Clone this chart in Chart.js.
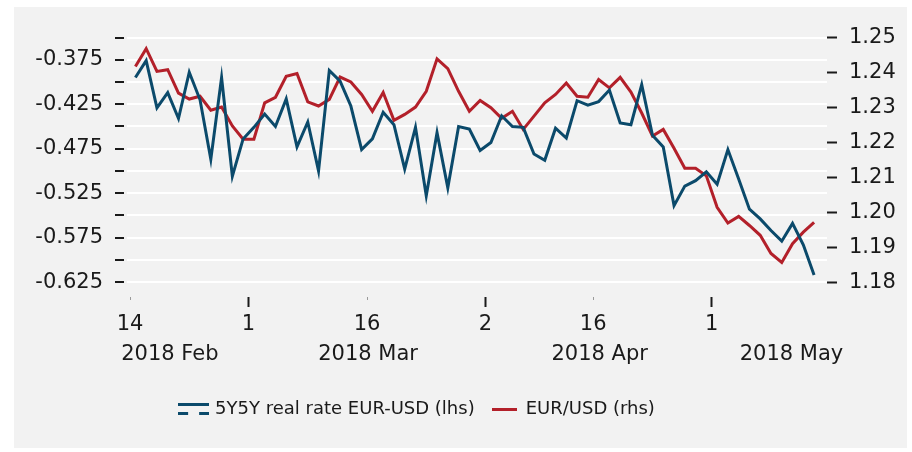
<!DOCTYPE html>
<html>
<head>
<meta charset="utf-8">
<script src="https://cdn.jsdelivr.net/npm/chart.js@4.4.1/dist/chart.umd.min.js"></script>
<style>
  html, body { margin: 0; padding: 0; background: #ffffff; width: 912px; height: 452px; overflow: hidden; }
  #panel { position: absolute; left: 14px; top: 7px; width: 893px; height: 441px; background: #f2f2f2; }
  #wrap { position: absolute; left: -78px; top: 7px; width: 992px; height: 441px; }
</style>
</head>
<body>
<div id="panel"></div>
<div id="wrap"><canvas id="chart" width="992" height="441"></canvas></div>
<script>
// Business days, 14 Feb - 14 May 2018
const dates = [
  '2018-02-14', '2018-02-15', '2018-02-16', '2018-02-19', '2018-02-20', '2018-02-21', '2018-02-22', '2018-02-23',
  '2018-02-26', '2018-02-27', '2018-02-28',
  '2018-03-01', '2018-03-02', '2018-03-05', '2018-03-06', '2018-03-07', '2018-03-08', '2018-03-09', '2018-03-12',
  '2018-03-13', '2018-03-14', '2018-03-15', '2018-03-16', '2018-03-19', '2018-03-20', '2018-03-21', '2018-03-22',
  '2018-03-23', '2018-03-26', '2018-03-27', '2018-03-28', '2018-03-29', '2018-03-30',
  '2018-04-02', '2018-04-03', '2018-04-04', '2018-04-05', '2018-04-06', '2018-04-09', '2018-04-10', '2018-04-11',
  '2018-04-12', '2018-04-13', '2018-04-16', '2018-04-17', '2018-04-18', '2018-04-19', '2018-04-20', '2018-04-23',
  '2018-04-24', '2018-04-25', '2018-04-26', '2018-04-27', '2018-04-30',
  '2018-05-01', '2018-05-02', '2018-05-03', '2018-05-04', '2018-05-07', '2018-05-08', '2018-05-09', '2018-05-10',
  '2018-05-11', '2018-05-14'
];

// 5Y5Y real rate EUR-USD (lhs)
const realRate = [
  -0.395, -0.376, -0.429, -0.412, -0.441, -0.389, -0.420, -0.487, -0.395, -0.506, -0.464,
  -0.451, -0.436, -0.450, -0.419, -0.473, -0.445, -0.500, -0.387, -0.399, -0.427, -0.476,
  -0.464, -0.434, -0.448, -0.498, -0.451, -0.528, -0.457, -0.519, -0.450, -0.453, -0.477,
  -0.468, -0.438, -0.450, -0.451, -0.481, -0.488, -0.452, -0.463, -0.421, -0.426, -0.422,
  -0.409, -0.446, -0.448, -0.403, -0.460, -0.473, -0.539, -0.517, -0.511, -0.501, -0.515,
  -0.476, -0.509, -0.543, -0.554, -0.567, -0.579, -0.559, -0.583, -0.617
];

// EUR/USD (rhs)
const eurUsd = [
  1.2417, 1.2468, 1.2403, 1.2408, 1.2341, 1.2324, 1.2332, 1.2292, 1.2301, 1.2247, 1.2209,
  1.2209, 1.2313, 1.2329, 1.2389, 1.2397, 1.2316, 1.2304, 1.2323, 1.2387, 1.2373, 1.2337,
  1.2289, 1.2343, 1.2263, 1.2280, 1.2301, 1.2346, 1.2439, 1.2411, 1.2346, 1.2289, 1.2320,
  1.2299, 1.2269, 1.2289, 1.2237, 1.2275, 1.2313, 1.2337, 1.2370, 1.2332, 1.2329, 1.2380,
  1.2356, 1.2386, 1.2344, 1.2284, 1.2218, 1.2237, 1.2183, 1.2126, 1.2126, 1.2104, 1.2014,
  1.1969, 1.1988, 1.1962, 1.1934, 1.1882, 1.1856, 1.1910, 1.1943, 1.1971
];

const leftTicks = [-0.35, -0.375, -0.4, -0.425, -0.45, -0.475, -0.5, -0.525, -0.55, -0.575, -0.6, -0.625];
const leftTickLabels = ['', '-0.375', '', '-0.425', '', '-0.475', '', '-0.525', '', '-0.575', '', '-0.625'];
const rightTicks = [1.25, 1.24, 1.23, 1.22, 1.21, 1.20, 1.19, 1.18];

const xTickDates = ['2018-02-14', '2018-03-01', '2018-03-16', '2018-04-02', '2018-04-16', '2018-05-01'];
const xTickLabels = ['14', '1', '16', '2', '16', '1'];
const xTickMajor = [false, true, false, true, false, true];

const monthLabels = ['2018 Feb', '2018 Mar', '2018 Apr', '2018 May'];
const monthLabelPos = [3.2, 21.6, 43.1, 60.9];

const blue = '#0b4a6b';
const red = '#b3202a';
const ink = '#1a1a1a';
const font = 'DejaVu Sans';

// each day spans [i - 0.5, i + 0.5]; ticks sit on the start of the day
const xTickValues = xTickDates.map(d => dates.indexOf(d) - 0.5);

/**
 * Small canvases used as legend symbols.
 */
function makeBlueSymbol() {
  const c = document.createElement('canvas');
  c.width = 31;
  c.height = 12;
  const g = c.getContext('2d');
  g.fillStyle = blue;
  g.fillRect(0, 0, 31, 3);
  g.fillRect(0, 9, 10, 3);
  g.fillRect(21, 9, 10, 3);
  return c;
}

function makeRedSymbol() {
  const c = document.createElement('canvas');
  c.width = 25;
  c.height = 3;
  const g = c.getContext('2d');
  g.fillStyle = red;
  g.fillRect(0, 0, 25, 3);
  return c;
}

const ctx = document.getElementById('chart').getContext('2d');

new Chart(ctx, {
  type: 'line',
  data: {
    datasets: [
      {
        label: '5Y5Y real rate EUR-USD (lhs)',
        data: realRate.map((v, i) => ({ x: i, y: v })),
        borderColor: blue,
        backgroundColor: blue,
        borderWidth: 3,
        pointRadius: 0,
        pointStyle: makeBlueSymbol(),
        tension: 0,
        yAxisID: 'y'
      },
      {
        label: 'EUR/USD (rhs)',
        data: eurUsd.map((v, i) => ({ x: i, y: v })),
        borderColor: red,
        backgroundColor: red,
        borderWidth: 3,
        pointRadius: 0,
        pointStyle: makeRedSymbol(),
        tension: 0,
        yAxisID: 'y1'
      }
    ]
  },
  options: {
    responsive: false,
    devicePixelRatio: 1,
    animation: false,
    layout: { padding: { top: 23, bottom: 20, left: 0, right: 0 } },
    plugins: {
      tooltip: { enabled: false },
      legend: {
        position: 'bottom',
        labels: {
          usePointStyle: true,
          pointStyleWidth: 25,
          padding: 17,
          color: ink,
          font: { family: font, size: 18 }
        }
      }
    },
    scales: {
      x: {
        type: 'linear',
        position: 'bottom',
        min: -0.78,
        max: 64.2,
        afterBuildTicks: s => { s.ticks = xTickValues.map(v => ({ value: v })); },
        afterFit: s => { s.height = 42; },
        border: { display: false },
        grid: {
          drawOnChartArea: false,
          tickLength: 10,
          tickWidth: c => xTickMajor[c.index] ? 2 : 1,
          tickColor: c => xTickMajor[c.index] ? ink : '#9a9a9a',
          tickBorderDash: c => xTickMajor[c.index] ? [10, 50] : [3, 50]
        },
        ticks: {
          autoSkip: false,
          maxRotation: 0,
          padding: 5,
          color: ink,
          font: { family: font, size: 21 },
          callback: (v, i) => xTickLabels[i]
        }
      },
      x2: {
        type: 'linear',
        position: 'bottom',
        min: -0.78,
        max: 64.2,
        afterBuildTicks: s => { s.ticks = monthLabelPos.map(v => ({ value: v })); },
        afterFit: s => { s.height = 44; },
        border: { display: false },
        grid: { display: false, drawTicks: false },
        ticks: {
          autoSkip: false,
          maxRotation: 0,
          padding: 3,
          color: ink,
          font: { family: font, size: 21 },
          callback: (v, i) => monthLabels[i]
        }
      },
      y: {
        position: 'left',
        min: -0.6418,
        max: -0.3433,
        afterBuildTicks: s => { s.ticks = leftTicks.map(v => ({ value: v })); },
        afterFit: s => { s.width = 205; },
        border: { display: false },
        grid: {
          color: '#ffffff',
          lineWidth: 2,
          tickLength: 12,
          tickColor: ink,
          tickWidth: 2,
          tickBorderDash: [9, 20]
        },
        ticks: {
          autoSkip: false,
          padding: 12,
          color: ink,
          font: { family: font, size: 21 },
          callback: (v, i) => leftTickLabels[i]
        }
      },
      y1: {
        position: 'right',
        min: 1.17573,
        max: 1.2517,
        afterBuildTicks: s => { s.ticks = rightTicks.map(v => ({ value: v })); },
        afterFit: s => { s.width = 87; },
        border: { display: false },
        grid: {
          drawOnChartArea: false,
          tickLength: 10,
          tickColor: ink,
          tickWidth: 2
        },
        ticks: {
          autoSkip: false,
          padding: 12,
          color: ink,
          font: { family: font, size: 21 },
          callback: v => v.toFixed(2)
        }
      }
    }
  }
});
</script>
</body>
</html>
